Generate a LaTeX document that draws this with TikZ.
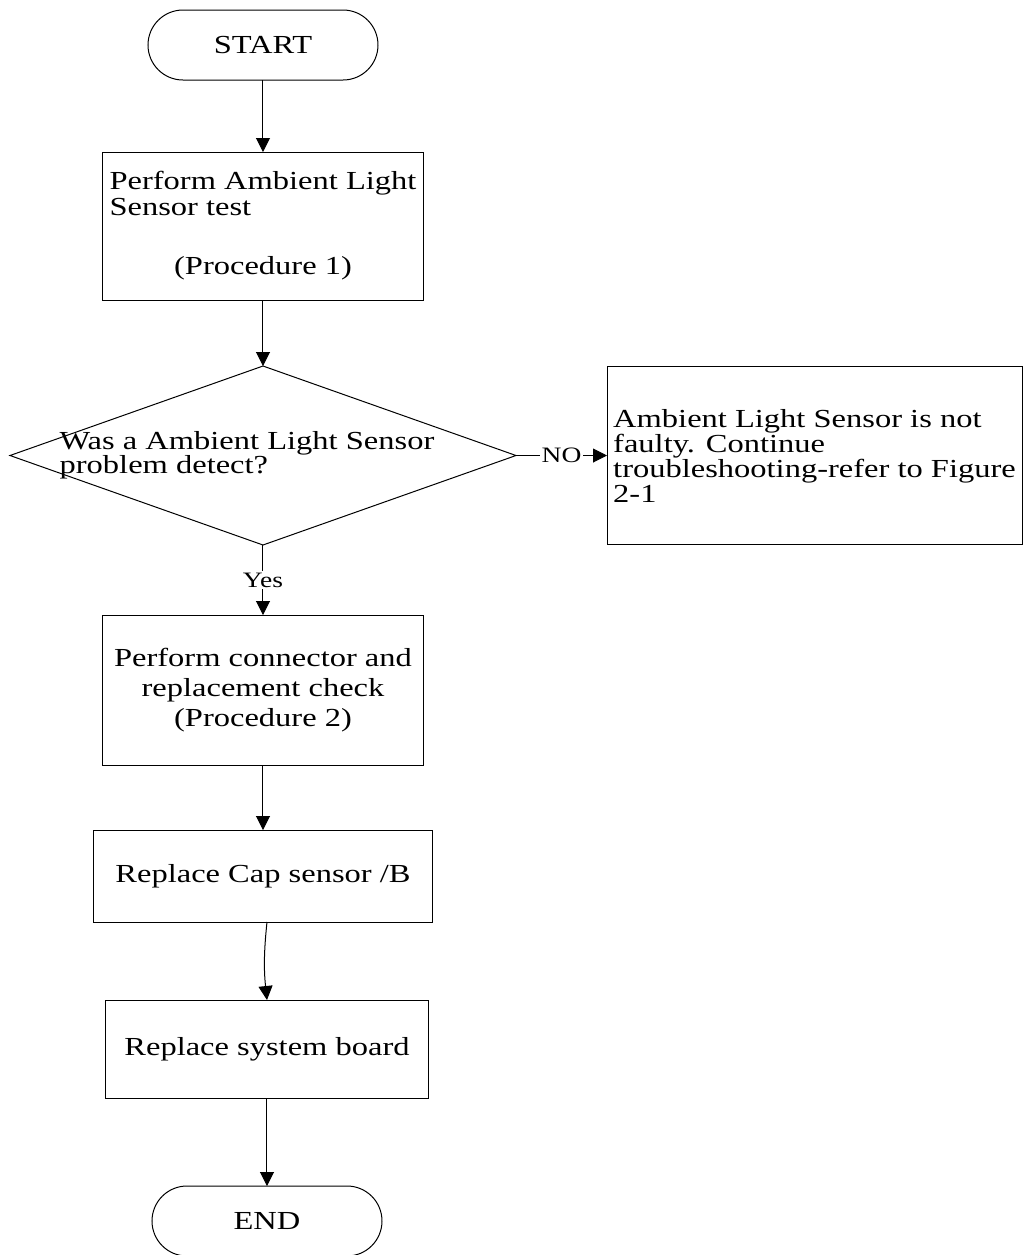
\documentclass[tikz,border=0pt]{standalone}
\usepackage{fontspec}
\setmainfont[FakeStretch=1.25]{Liberation Serif}
\usetikzlibrary{positioning,shapes.geometric,arrows.meta}
\begin{document}
\begin{tikzpicture}[
  node distance=36pt,
  every node/.style={outer sep=0pt},
  term/.style={draw, rounded corners=17.5pt, minimum width=115pt, minimum height=35pt, line width=0.5pt, font=\fontsize{13}{13}\selectfont},
  box/.style={draw, align=left, inner xsep=2pt, inner ysep=0pt, line width=0.5pt, font=\fontsize{13}{13}\selectfont},
  decision/.style={draw, diamond, minimum width=253pt, minimum height=89.5pt, inner sep=0pt, line width=0.5pt},
  arrow/.style={-{Triangle[length=7pt,width=7pt]}, line width=0.5pt},
  tag/.style={fill=white, inner sep=1pt, font=\fontsize{11}{11}\selectfont}
]
\useasboundingbox (-131.5pt,22.5pt) rectangle (380pt,-605pt);

\node[term] (start) {START};
\node[box, below=36pt of start, minimum width=160.5pt, minimum height=74pt] (test) {Perform Ambient Light\\Sensor test\\[16.5pt]\hspace*{\fill}(Procedure 1)\hspace*{\fill}};
\node[decision, below=33pt of test] (q) {};
\node[align=left, inner sep=0pt, font={\fontsize{13}{12}\selectfont\lineskiplimit=-20pt}, xshift=-8pt] (qtext) at (q.center) {Was a Ambient Light Sensor\\problem detect?};
\node[box, right=45.5pt of q, minimum width=207.5pt, minimum height=89pt, font=\fontsize{13}{12.5}\selectfont] (ok) {Ambient Light Sensor is not\\faulty. Continue\\troubleshooting-refer to Figure\\2-1};
\node[box, align=center, below=35pt of q, minimum width=160.5pt, minimum height=75pt, font=\fontsize{13}{15}\selectfont] (check) {Perform connector and\\replacement check\\(Procedure 2)};
\node[box, align=center, below=32.5pt of check, minimum width=169.5pt, minimum height=46pt] (cap) {Replace Cap sensor /B};
\node[box, align=center, below=39pt of cap, xshift=2pt, minimum width=161.5pt, minimum height=49pt] (board) {Replace system board};
\node[term, below=44pt of board] (finish) {END};

\draw[arrow] (start) -- (test);
\draw[arrow] (test) -- (q);
\draw[arrow] (q) -- node[tag] {NO} (ok);
\draw[arrow] (q) -- node[tag] {Yes} (check);
\draw[arrow] (check) -- (cap);
\draw[arrow] (cap.south -| board) to[bend right=6] (board.north);
\draw[arrow] (board) -- (finish);
\end{tikzpicture}
\end{document}
